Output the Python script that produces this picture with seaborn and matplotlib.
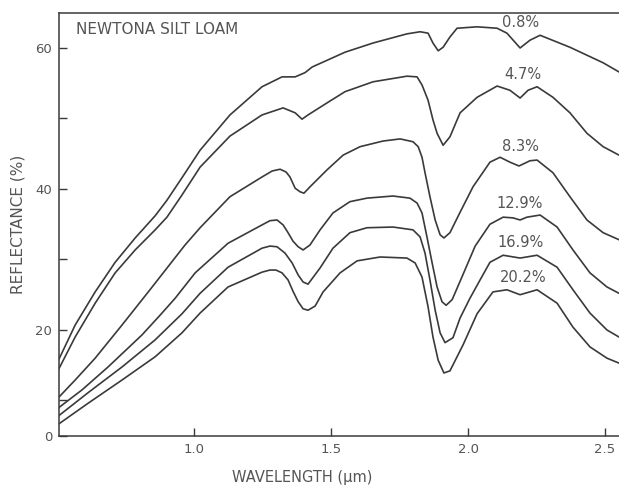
import matplotlib
matplotlib.use("Agg")
import matplotlib.pyplot as plt
import seaborn as sns
import pandas as pd

# ---- data ----
moisture_labels = ["0.8%", "4.7%", "8.3%", "12.9%", "16.9%", "20.2%"]

wl_08 = [0.50, 0.566, 0.639, 0.712, 0.785, 0.858, 0.901, 0.956, 1.022, 1.131, 1.248, 1.321, 1.369,
         1.405, 1.431, 1.551, 1.653, 1.777, 1.825, 1.854, 1.872, 1.891, 1.909, 1.934, 1.960, 2.033,
         2.106, 2.142, 2.190, 2.226, 2.263, 2.372, 2.493, 2.551]
rf_08 = [15.3, 20.7, 25.4, 29.6, 33.05, 36.2, 38.4, 41.6, 45.5, 50.5, 54.5, 55.9, 55.9,
         56.5, 57.3, 59.4, 60.7, 62.0, 62.3, 62.1, 60.7, 59.6, 60.1, 61.56, 62.8, 63.0,
         62.8, 62.1, 60.0, 61.1, 61.8, 60.1, 57.9, 56.6]

wl_47 = [0.50, 0.566, 0.639, 0.712, 0.785, 0.858, 0.901, 0.956, 1.022, 1.131, 1.248, 1.325, 1.369,
         1.394, 1.416, 1.489, 1.551, 1.653, 1.777, 1.814, 1.832, 1.854, 1.872, 1.887, 1.909, 1.934,
         1.971, 2.033, 2.106, 2.153, 2.190, 2.219, 2.252, 2.310, 2.372, 2.434, 2.493, 2.551]
rf_47 = [14.0, 19.0, 23.8, 28.1, 31.35, 34.2, 36.0, 39.15, 43.1, 47.5, 50.5, 51.5, 50.8,
         49.9, 50.5, 52.3, 53.8, 55.2, 56.0, 55.9, 54.75, 52.6, 49.8, 47.9, 46.2, 47.4,
         50.8, 53.0, 54.6, 54.0, 52.9, 54.0, 54.5, 53.0, 50.8, 47.9, 46.0, 44.8]

wl_83 = [0.50, 0.566, 0.639, 0.737, 0.839, 0.967, 1.022, 1.131, 1.248, 1.285, 1.314, 1.336, 1.350,
         1.369, 1.387, 1.401, 1.423, 1.485, 1.544, 1.606, 1.690, 1.752, 1.799, 1.818, 1.832, 1.843,
         1.861, 1.880, 1.898, 1.912, 1.934, 1.971, 2.018, 2.080, 2.117, 2.153, 2.186, 2.226, 2.252,
         2.310, 2.372, 2.434, 2.493, 2.551]
rf_83 = [10.2, 12.9, 16.0, 20.7, 25.7, 32.05, 34.5, 38.9, 41.7, 42.55, 42.8, 42.4, 41.7,
         40.1, 39.6, 39.4, 40.3, 42.7, 44.8, 46.0, 46.8, 47.1, 46.7, 46.0, 44.5, 42.3,
         38.9, 35.6, 33.5, 33.05, 33.8, 36.7, 40.3, 43.8, 44.5, 43.8, 43.26, 44.0, 44.1,
         42.3, 38.9, 35.6, 33.8, 32.8]

wl_129 = [0.50, 0.591, 0.686, 0.810, 0.876, 0.931, 1.004, 1.124, 1.248, 1.277, 1.303, 1.325, 1.343,
          1.361, 1.380, 1.398, 1.423, 1.460, 1.507, 1.569, 1.631, 1.726, 1.788, 1.814, 1.832, 1.850,
          1.869, 1.887, 1.905, 1.920, 1.942, 1.982, 2.026, 2.080, 2.128, 2.164, 2.190, 2.215, 2.263,
          2.325, 2.383, 2.445, 2.507, 2.551]
rf_129 = [8.8, 11.5, 14.75, 19.3, 22.1, 24.5, 28.1, 32.3, 34.9, 35.5, 35.6, 34.9, 33.8,
          32.6, 31.8, 31.35, 32.05, 34.2, 36.6, 38.2, 38.7, 39.0, 38.7, 38.0, 36.6, 33.2,
          29.5, 26.1, 24.0, 23.5, 24.3, 27.9, 31.9, 35.0, 36.0, 35.9, 35.6, 36.0, 36.3,
          34.6, 31.35, 28.1, 26.1, 25.2]

wl_169 = [0.50, 0.613, 0.737, 0.858, 0.956, 1.022, 1.124, 1.248, 1.277, 1.303, 1.332, 1.358, 1.380,
          1.398, 1.416, 1.460, 1.507, 1.569, 1.631, 1.726, 1.799, 1.825, 1.843, 1.861, 1.880, 1.898,
          1.916, 1.945, 1.971, 2.007, 2.044, 2.080, 2.128, 2.190, 2.252, 2.325, 2.383, 2.445, 2.507,
          2.551]
rf_169 = [7.65, 11.1, 14.75, 18.6, 22.3, 25.2, 28.9, 31.6, 31.9, 31.8, 30.9, 29.5, 27.8,
          26.8, 26.5, 28.8, 31.6, 33.8, 34.5, 34.6, 34.2, 33.2, 30.9, 27.1, 22.8, 19.6,
          18.2, 18.9, 21.7, 24.5, 27.1, 29.6, 30.6, 30.2, 30.6, 28.9, 25.7, 22.4, 20.0,
          19.0]

wl_202 = [0.50, 0.613, 0.737, 0.858, 0.956, 1.022, 1.124, 1.248, 1.277, 1.299, 1.321, 1.343, 1.361,
          1.380, 1.398, 1.416, 1.442, 1.471, 1.533, 1.595, 1.679, 1.777, 1.807, 1.832, 1.854, 1.872,
          1.891, 1.912, 1.934, 1.982, 2.033, 2.091, 2.142, 2.190, 2.252, 2.325, 2.383, 2.445, 2.507,
          2.551]
rf_202 = [6.5, 9.6, 12.9, 16.2, 19.6, 22.4, 26.1, 28.2, 28.5, 28.5, 28.1, 27.1, 25.5,
          24.0, 23.0, 22.8, 23.4, 25.4, 28.1, 29.8, 30.35, 30.2, 29.5, 27.5, 23.3, 19.0,
          15.7, 13.9, 14.2, 17.9, 22.3, 25.4, 25.7, 25.0, 25.7, 23.8, 20.4, 17.6, 16.0,
          15.3]

y_tick_values = [4.96, 10, 20, 30, 40, 50, 60]
y_tick_labels = ["0", "", "20", "", "40", "", "60"]
x_tick_values = [1.0, 1.5, 2.0, 2.5]
x_tick_labels = ["1.0", "1.5", "2.0", "2.5"]

series = [(wl_08, rf_08), (wl_47, rf_47), (wl_83, rf_83),
          (wl_129, rf_129), (wl_169, rf_169), (wl_202, rf_202)]
frames = []
for lab, (w, r) in zip(moisture_labels, series):
    frames.append(pd.DataFrame({"wavelength": w, "reflectance": r, "moisture": lab}))
df = pd.concat(frames, ignore_index=True)

# ---- style ----
sns.set_style("ticks")
plt.rcParams["font.family"] = ["DejaVu Sans"]
line_color = "#3a3a3a"
text_color = "#555555"

fig = plt.figure(figsize=(6.19, 4.90), dpi=100)
ax = fig.add_axes([59 / 619, 1 - 436 / 490, 560 / 619, 423 / 490])

sns.lineplot(data=df, x="wavelength", y="reflectance", hue="moisture",
             hue_order=moisture_labels, palette=[line_color] * len(moisture_labels),
             estimator=None, sort=False, legend=False, linewidth=1.2, ax=ax)
for ln in ax.lines:
    ln.set_solid_joinstyle("round")
    ln.set_solid_capstyle("round")
    ln.set_antialiased(True)

ax.set_xlim(0.507, 2.551)
ax.set_ylim(4.96, 64.96)

ax.set_xticks(x_tick_values)
ax.set_xticklabels(x_tick_labels)
ax.set_yticks(y_tick_values)
ax.set_yticklabels(y_tick_labels)
ax.tick_params(direction="in", length=6, width=1.0, color=line_color,
               labelcolor=text_color, labelsize=9.5, pad=5)

for side in ["left", "bottom", "top"]:
    ax.spines[side].set_color(line_color)
    ax.spines[side].set_linewidth(1.1)
ax.spines["right"].set_visible(False)

ax.set_xlabel("WAVELENGTH (µm)", fontsize=10.5, color=text_color)
ax.xaxis.set_label_coords(0.434, -0.08)
ax.set_ylabel("REFLECTANCE (%)", fontsize=11, color=text_color, labelpad=7)

ax.text(0.030, 0.96, "NEWTONA SILT LOAM", transform=ax.transAxes, fontsize=11,
        color=text_color, ha="left", va="center")

label_pos = [(2.19, 63.55), (2.20, 56.2), (2.19, 46.0), (2.19, 38.0), (2.19, 32.35), (2.20, 27.4)]
for lab, (lx, ly) in zip(moisture_labels, label_pos):
    ax.text(lx, ly, lab, fontsize=10.5, color=text_color, ha="center", va="center")

fig.savefig("out.png", dpi=100, facecolor="white")
